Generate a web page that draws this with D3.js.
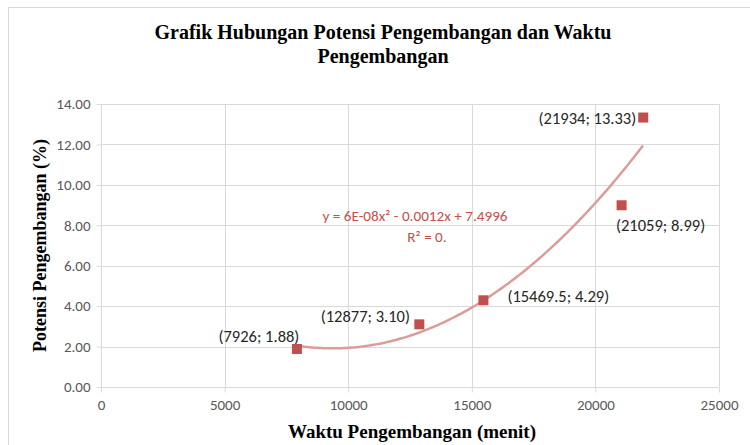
<!DOCTYPE html>
<html>
<head>
<meta charset="utf-8">
<script src="https://cdn.jsdelivr.net/npm/d3@7"></script>
<style>
  body { margin: 0; background: #fff; }
  .grid line { stroke: #d9d9d9; }
  .tick text { fill: #595959; font-family: Carlito, Lato, "Liberation Sans", sans-serif; font-size: 15px; }
  .axis path, .axis line { stroke: #d9d9d9; }
  .ptlabel { fill: #262626; font-family: Carlito, Lato, "Liberation Sans", sans-serif; font-size: 16.5px; }
  .eq { fill: #c0504d; font-family: Carlito, Lato, "Liberation Sans", sans-serif; font-size: 15.2px; }
  .ttl { font-family: "Liberation Serif", "Times New Roman", serif; font-weight: bold; fill: #000; }
</style>
</head>
<body>
<svg id="chart" width="750" height="445"></svg>
<script>
// data
const waktu = [7926, 12877, 15469.5, 21059, 21934];
const potensi = [1.88, 3.10, 4.29, 8.99, 13.33];
const pointLabels = ['(7926; 1.88)', '(12877; 3.10)', '(15469.5; 4.29)', '(21059; 8.99)', '(21934; 13.33)'];
const xTicks = [0, 5000, 10000, 15000, 20000, 25000];
const yTicks = [0, 2, 4, 6, 8, 10, 12, 14];
const eqLines = ['y = 6E-08x\u00b2 - 0.0012x + 7.4996', 'R\u00b2 = 0.'];

const margin = {top:104, right:31, bottom:58, left:101};
const W = 750, H = 445;
const width = W - margin.left - margin.right;
const height = H - margin.top - margin.bottom;

let svg = d3.select('#chart');

// outer frame
svg.append('rect')
  .attr('x', 8.5).attr('y', 7.5)
  .attr('width', W).attr('height', H)
  .attr('fill', 'none')
  .attr('stroke', '#d9d9d9');

let g = svg.append('g')
  .attr('transform', 'translate('+margin.left+','+margin.top+')');

let x = d3.scaleLinear().domain([0, 25000]).range([0, width]);
let y = d3.scaleLinear().domain([0, 14]).range([height, 0]);

// gridlines
g.append('g').attr('class', 'grid')
  .selectAll('line').data(yTicks).enter().append('line')
  .attr('x1', 0).attr('x2', width)
  .attr('y1', d => Math.round(y(d)) + 0.5).attr('y2', d => Math.round(y(d)) + 0.5);
g.append('g').attr('class', 'grid')
  .selectAll('line').data(xTicks).enter().append('line')
  .attr('y1', 0).attr('y2', height)
  .attr('x1', d => Math.round(x(d)) + 0.5).attr('x2', d => Math.round(x(d)) + 0.5);

// axes
g.append('g')
  .attr('class', 'axis axis-x')
  .attr('transform', 'translate(0,' + (Math.round(height) + 0.5) + ')')
  .call(d3.axisBottom(x).tickValues(xTicks).tickFormat(d3.format('d')).tickSize(5).tickPadding(7))
  .call(a => a.select('.domain').attr('d', 'M0.5,0H' + width));
g.append('g')
  .attr('class', 'axis axis-y')
  .attr('transform', 'translate(0.5,0)')
  .call(d3.axisLeft(y).tickValues(yTicks).tickFormat(d3.format('.2f')).tickSize(5).tickPadding(6))
  .call(a => a.select('.domain').attr('d', 'M0,0V' + height));

// polynomial (order 2) least-squares trendline
function polyFit(xs, ys) {
  let S = [0,0,0,0,0], T = [0,0,0];
  xs.forEach((xv, i) => {
    let u = xv / 10000;
    for (let k = 0; k < 5; k++) S[k] += Math.pow(u, k);
    for (let k = 0; k < 3; k++) T[k] += ys[i] * Math.pow(u, k);
  });
  let A = [[S[0],S[1],S[2],T[0]],[S[1],S[2],S[3],T[1]],[S[2],S[3],S[4],T[2]]];
  for (let c = 0; c < 3; c++) {
    for (let r = c + 1; r < 3; r++) {
      let f = A[r][c] / A[c][c];
      for (let k = c; k < 4; k++) A[r][k] -= f * A[c][k];
    }
  }
  let b = [0,0,0];
  for (let r = 2; r >= 0; r--) {
    let s = A[r][3];
    for (let k = r + 1; k < 3; k++) s -= A[r][k] * b[k];
    b[r] = s / A[r][r];
  }
  return xv => { let u = xv / 10000; return b[0] + b[1]*u + b[2]*u*u; };
}
const fit = polyFit(waktu, potensi);
const trend = d3.range(d3.min(waktu), d3.max(waktu) + 1, 100).map(xv => [xv, fit(xv)]);

g.append('path')
  .datum(trend)
  .attr('fill', 'none')
  .attr('stroke', '#db9c9a')
  .attr('stroke-width', 2.5)
  .attr('d', d3.line().x(d => x(d[0])).y(d => y(d[1])));

// markers
g.selectAll('.pt').data(waktu).enter().append('rect')
  .attr('class', 'pt')
  .attr('x', (d, i) => x(d) - 5)
  .attr('y', (d, i) => y(potensi[i]) - 5)
  .attr('width', 10).attr('height', 10)
  .attr('fill', '#c0504d');

// data labels: offset from each point
const labelOffset = [[-38, -7, 'middle'], [-54, -2, 'middle'], [24, 2, 'start'], [39, 26, 'middle'], [-7, 6, 'end']];
g.selectAll('.ptlabel').data(waktu).enter().append('text')
  .attr('class', 'ptlabel')
  .attr('x', (d, i) => x(d) + labelOffset[i][0])
  .attr('y', (d, i) => y(potensi[i]) + labelOffset[i][1])
  .attr('text-anchor', (d, i) => labelOffset[i][2])
  .text((d, i) => pointLabels[i]);

// trendline equation
const eqX = [314, 326];
g.selectAll('.eq').data(eqLines).enter().append('text')
  .attr('class', 'eq')
  .attr('x', (d, i) => eqX[i])
  .attr('y', (d, i) => 117 + i * 21)
  .attr('text-anchor', 'middle')
  .text(d => d);

// titles
svg.append('text').attr('class', 'ttl')
  .attr('x', 383).attr('y', 39)
  .attr('text-anchor', 'middle')
  .style('font-size', '20px')
  .text('Grafik Hubungan  Potensi Pengembangan dan Waktu');
svg.append('text').attr('class', 'ttl')
  .attr('x', 383).attr('y', 63)
  .attr('text-anchor', 'middle')
  .style('font-size', '20px')
  .text('Pengembangan');
svg.append('text').attr('class', 'ttl')
  .attr('transform', 'translate(46,' + (margin.top + height / 2) + ') rotate(-90)')
  .attr('text-anchor', 'middle')
  .style('font-size', '18px')
  .text('Potensi Pengembangan (%)');
svg.append('text').attr('class', 'ttl')
  .attr('x', 412).attr('y', 438)
  .attr('text-anchor', 'middle')
  .style('font-size', '19px')
  .text('Waktu Pengembangan (menit)');
</script>
</body>
</html>
